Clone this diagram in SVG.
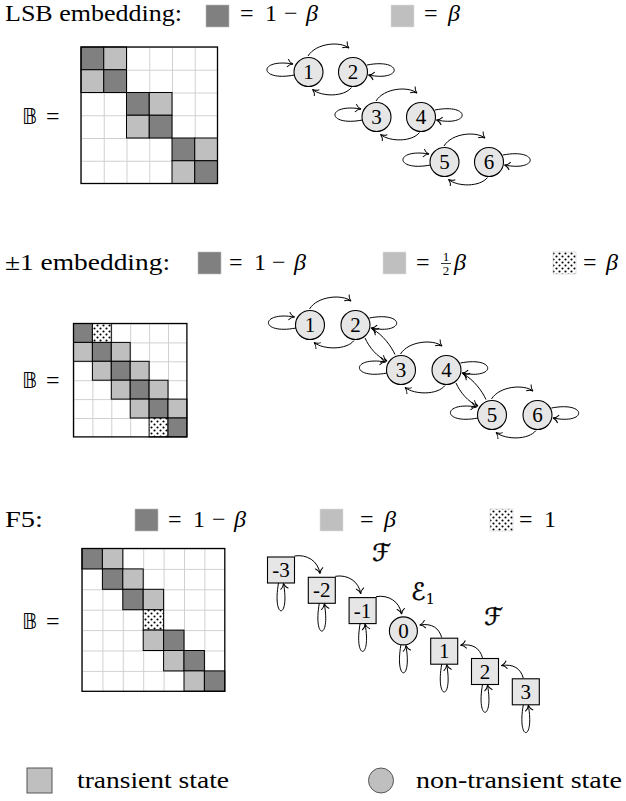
<svg xmlns="http://www.w3.org/2000/svg" width="626" height="801" viewBox="0 0 626 801">
  <style>
    .txt { font-family: "Liberation Serif", "Times New Roman", serif; font-size: 24px; fill: #000; }
    .it { font-style: italic; }
    .bb { font-family: "DejaVu Sans", "DejaVu Serif", sans-serif; font-size: 21px; }
    .scr { font-family: "DejaVu Serif", "DejaVu Sans", serif; font-size: 24px; fill: #000; stroke: #000; stroke-width: 0.5; }
    .dark { fill: #808080; stroke: #000; stroke-width: 1; }
    .light { fill: #bfbfbf; stroke: #000; stroke-width: 1; }
    .dots { fill: url(#dots); stroke: #000; stroke-width: 1; }
    .keyd { fill: #808080; stroke: #bbb; stroke-width: 0.6; }
    .keyl { fill: #bfbfbf; stroke: #ddd; stroke-width: 0.6; }
    .keyp { fill: url(#dots); stroke: #ccc; stroke-width: 0.6; }
    .frame { fill: none; stroke: #000; stroke-width: 1.3; }
    .node circle, .node rect { fill: #e6e6e6; stroke: #000; stroke-width: 1.1; }
    .node text { font-family: "Liberation Serif", "Times New Roman", serif; font-size: 21px; text-anchor: middle; }
    .edge { fill: none; stroke: #000; stroke-width: 1; marker-end: url(#tip); }
  </style>
  <defs>
    <marker id="tip" markerUnits="userSpaceOnUse" markerWidth="12" markerHeight="12" viewBox="-7 -6 9 12" refX="0" refY="0" orient="auto">
      <path d="M-5.5,-4 C-4,-1.6 -1.6,-0.4 0,0 C-1.6,0.4 -4,1.6 -5.5,4" fill="none" stroke="#000" stroke-width="1"/>
    </marker>
    <pattern id="dots" patternUnits="userSpaceOnUse" width="6" height="6">
      <rect width="6" height="6" fill="#fff"/>
      <circle cx="1.5" cy="1.5" r="1.05" fill="#000"/>
      <circle cx="4.5" cy="4.5" r="1.05" fill="#000"/>
    </pattern>
    <pattern id="grid1" patternUnits="userSpaceOnUse" x="81" y="47" width="22.75" height="22.75">
      <path d="M0,0.5 H22.75 M0.5,0 V22.75" stroke="#d0d0d0" stroke-width="1" fill="none"/>
    </pattern>
    <pattern id="grid2" patternUnits="userSpaceOnUse" x="73.5" y="323.5" width="18.9" height="18.9">
      <path d="M0,0.5 H18.9 M0.5,0 V18.9" stroke="#d0d0d0" stroke-width="1" fill="none"/>
    </pattern>
    <pattern id="grid3" patternUnits="userSpaceOnUse" x="82" y="548.5" width="20.4" height="20.4">
      <path d="M0,0.5 H20.4 M0.5,0 V20.4" stroke="#d0d0d0" stroke-width="1" fill="none"/>
    </pattern>
  </defs>

  <rect width="626" height="801" fill="#fff"/>

  <!-- ===== LSB embedding ===== -->
  <g id="key-lsb">
    <text class="txt" x="5" y="21" textLength="177" lengthAdjust="spacingAndGlyphs">LSB embedding:</text>
    <rect class="keyd" x="206" y="5" width="23" height="22"/>
    <text class="txt" y="21"><tspan x="240">=</tspan><tspan x="265">1</tspan><tspan x="284">−</tspan><tspan x="306" class="it">β</tspan></text>
    <rect class="keyl" x="391" y="5" width="23" height="22"/>
    <text class="txt" y="21"><tspan x="424">=</tspan><tspan x="448" class="it">β</tspan></text>
  </g>

  <g id="matrix-lsb">
    <text class="bb" x="22" y="124">𝔹</text>
    <text class="txt" x="46" y="124">=</text>
    <rect x="81" y="47" width="136.5" height="136.5" fill="#fff"/>
    <rect x="81" y="47" width="136.5" height="136.5" fill="url(#grid1)"/>
    <rect class="dark" x="81" y="47" width="22.75" height="22.75"/>
    <rect class="light" x="103.75" y="47" width="22.75" height="22.75"/>
    <rect class="light" x="81" y="69.75" width="22.75" height="22.75"/>
    <rect class="dark" x="103.75" y="69.75" width="22.75" height="22.75"/>
    <rect class="dark" x="126.5" y="92.5" width="22.75" height="22.75"/>
    <rect class="light" x="149.25" y="92.5" width="22.75" height="22.75"/>
    <rect class="light" x="126.5" y="115.25" width="22.75" height="22.75"/>
    <rect class="dark" x="149.25" y="115.25" width="22.75" height="22.75"/>
    <rect class="dark" x="172" y="138" width="22.75" height="22.75"/>
    <rect class="light" x="194.75" y="138" width="22.75" height="22.75"/>
    <rect class="light" x="172" y="160.75" width="22.75" height="22.75"/>
    <rect class="dark" x="194.75" y="160.75" width="22.75" height="22.75"/>
    <rect class="frame" x="81" y="47" width="136.5" height="136.5"/>
  </g>

  <g id="lsb-n1" class="node"><circle cx="308.5" cy="72" r="14.5"/><text x="308.5" y="79">1</text></g>
  <g id="lsb-n2" class="node"><circle cx="353" cy="72" r="14.5"/><text x="353" y="79">2</text></g>
  <g id="lsb-n3" class="node"><circle cx="376.5" cy="117" r="14.5"/><text x="376.5" y="124">3</text></g>
  <g id="lsb-n4" class="node"><circle cx="421" cy="117" r="14.5"/><text x="421" y="124">4</text></g>
  <g id="lsb-n5" class="node"><circle cx="444.5" cy="162" r="14.5"/><text x="444.5" y="169">5</text></g>
  <g id="lsb-n6" class="node"><circle cx="489" cy="162" r="14.5"/><text x="489" y="169">6</text></g>

  <g id="lsb-edges">
    <!-- pair 1,2 -->
    <path class="edge" d="M308,56 C316,43 340,41 349,48"/>
    <path class="edge" d="M351.5,87.5 C344,97 322,97 312.5,89.5"/>
    <path class="edge" d="M294.5,75 C258,82 258,58 293,64"/>
    <path class="edge" d="M367,65 C403,58 403,82 368.5,75"/>
    <!-- pair 3,4 -->
    <path class="edge" d="M376,101 C384,88 408,86 417,93"/>
    <path class="edge" d="M419.5,132.5 C412,142 390,142 380.5,134.5"/>
    <path class="edge" d="M362.5,120 C326,127 326,103 361,109"/>
    <path class="edge" d="M435,110 C471,103 471,127 436.5,120"/>
    <!-- pair 5,6 -->
    <path class="edge" d="M444,146 C452,133 476,131 485,138"/>
    <path class="edge" d="M487.5,177.5 C480,187 458,187 448.5,179.5"/>
    <path class="edge" d="M430.5,165 C394,172 394,148 429,154"/>
    <path class="edge" d="M503,155 C539,148 539,172 504.5,165"/>
  </g>

  <!-- ===== ±1 embedding ===== -->
  <g id="key-pm1">
    <text class="txt" x="5" y="270" textLength="165" lengthAdjust="spacingAndGlyphs">±1 embedding:</text>
    <rect class="keyd" x="198" y="252" width="23" height="22"/>
    <text class="txt" y="270"><tspan x="229">=</tspan><tspan x="254">1</tspan><tspan x="272">−</tspan><tspan x="294" class="it">β</tspan></text>
    <rect class="keyl" x="383" y="252" width="23" height="22"/>
    <text class="txt" x="416" y="270">=</text>
    <text x="446" y="261" style="font-family:'Liberation Serif',serif;font-size:13px" text-anchor="middle">1</text>
    <line x1="441" y1="263.5" x2="451" y2="263.5" stroke="#000" stroke-width="0.8"/>
    <text x="446" y="275" style="font-family:'Liberation Serif',serif;font-size:13px" text-anchor="middle">2</text>
    <text class="txt it" x="454" y="270">β</text>
    <rect class="keyp" x="553" y="252" width="23" height="22"/>
    <text class="txt" y="270"><tspan x="583">=</tspan><tspan x="606" class="it">β</tspan></text>
  </g>

  <g id="matrix-pm1">
    <text class="bb" x="22" y="388">𝔹</text>
    <text class="txt" x="46" y="388">=</text>
    <rect x="73.5" y="323.5" width="113.4" height="113.4" fill="#fff"/>
    <rect x="73.5" y="323.5" width="113.4" height="113.4" fill="url(#grid2)"/>
    <rect class="dark" x="73.5" y="323.5" width="18.9" height="18.9"/>
    <rect class="dots" x="92.4" y="323.5" width="18.9" height="18.9"/>
    <rect class="light" x="73.5" y="342.4" width="18.9" height="18.9"/>
    <rect class="dark" x="92.4" y="342.4" width="18.9" height="18.9"/>
    <rect class="light" x="111.3" y="342.4" width="18.9" height="18.9"/>
    <rect class="light" x="92.4" y="361.3" width="18.9" height="18.9"/>
    <rect class="dark" x="111.3" y="361.3" width="18.9" height="18.9"/>
    <rect class="light" x="130.2" y="361.3" width="18.9" height="18.9"/>
    <rect class="light" x="111.3" y="380.2" width="18.9" height="18.9"/>
    <rect class="dark" x="130.2" y="380.2" width="18.9" height="18.9"/>
    <rect class="light" x="149.1" y="380.2" width="18.9" height="18.9"/>
    <rect class="light" x="130.2" y="399.1" width="18.9" height="18.9"/>
    <rect class="dark" x="149.1" y="399.1" width="18.9" height="18.9"/>
    <rect class="light" x="168" y="399.1" width="18.9" height="18.9"/>
    <rect class="dots" x="149.1" y="418" width="18.9" height="18.9"/>
    <rect class="dark" x="168" y="418" width="18.9" height="18.9"/>
    <rect class="frame" x="73.5" y="323.5" width="113.4" height="113.4"/>
  </g>

  <g id="pm1-n1" class="node"><circle cx="310" cy="325" r="14.5"/><text x="310" y="332">1</text></g>
  <g id="pm1-n2" class="node"><circle cx="355.5" cy="325" r="14.5"/><text x="355.5" y="332">2</text></g>
  <g id="pm1-n3" class="node"><circle cx="401" cy="370" r="14.5"/><text x="401" y="377">3</text></g>
  <g id="pm1-n4" class="node"><circle cx="446.5" cy="370" r="14.5"/><text x="446.5" y="377">4</text></g>
  <g id="pm1-n5" class="node"><circle cx="492" cy="415" r="14.5"/><text x="492" y="422">5</text></g>
  <g id="pm1-n6" class="node"><circle cx="537.5" cy="415" r="14.5"/><text x="537.5" y="422">6</text></g>

  <g id="pm1-edges">
    <!-- pair 1,2 -->
    <path class="edge" d="M309.5,309 C317.5,296 342,294 351,301"/>
    <path class="edge" d="M354,340.5 C346.5,350 324,350 314,342.5"/>
    <path class="edge" d="M296,328 C259.5,335 259.5,311 294.5,317"/>
    <path class="edge" d="M369.5,318 C405.5,311 405.5,335 371,328"/>
    <!-- 2 <-> 3 -->
    <path class="edge" d="M365,338 C369,347 377,357 387,361"/>
    <path class="edge" d="M395,354.5 C391,346 383,335 372.5,329"/>
    <!-- pair 3,4 -->
    <path class="edge" d="M400.5,354 C408.5,341 433,339 442,346"/>
    <path class="edge" d="M445,385.5 C437.5,395 415,395 405,387.5"/>
    <path class="edge" d="M387,373 C350.5,380 350.5,356 385.5,362"/>
    <path class="edge" d="M460.5,363 C496.5,356 496.5,380 462,373"/>
    <!-- 4 <-> 5 -->
    <path class="edge" d="M456,383 C460,392 468,402 478,406"/>
    <path class="edge" d="M486,399.5 C482,391 474,380 463.5,374"/>
    <!-- pair 5,6 -->
    <path class="edge" d="M491.5,399 C499.5,386 524,384 533,391"/>
    <path class="edge" d="M536,430.5 C528.5,440 506,440 496,432.5"/>
    <path class="edge" d="M478,418 C441.5,425 441.5,401 476.5,407"/>
    <path class="edge" d="M551.5,408 C587.5,401 587.5,425 553,418"/>
  </g>

  <!-- ===== F5 ===== -->
  <g id="key-f5">
    <text class="txt" x="5" y="527" textLength="38" lengthAdjust="spacingAndGlyphs">F5:</text>
    <rect class="keyd" x="135" y="509" width="23" height="22"/>
    <text class="txt" y="527"><tspan x="168">=</tspan><tspan x="193">1</tspan><tspan x="212">−</tspan><tspan x="234" class="it">β</tspan></text>
    <rect class="keyl" x="320" y="509" width="23" height="22"/>
    <text class="txt" y="527"><tspan x="360">=</tspan><tspan x="384" class="it">β</tspan></text>
    <rect class="keyp" x="490" y="509" width="23" height="22"/>
    <text class="txt" y="527"><tspan x="519">=</tspan><tspan x="544">1</tspan></text>
  </g>

  <g id="matrix-f5">
    <text class="bb" x="22" y="629">𝔹</text>
    <text class="txt" x="46" y="629">=</text>
    <rect x="82" y="548.5" width="142.8" height="142.8" fill="#fff"/>
    <rect x="82" y="548.5" width="142.8" height="142.8" fill="url(#grid3)"/>
    <rect class="dark" x="82" y="548.5" width="20.4" height="20.4"/>
    <rect class="light" x="102.4" y="548.5" width="20.4" height="20.4"/>
    <rect class="dark" x="102.4" y="568.9" width="20.4" height="20.4"/>
    <rect class="light" x="122.8" y="568.9" width="20.4" height="20.4"/>
    <rect class="dark" x="122.8" y="589.3" width="20.4" height="20.4"/>
    <rect class="light" x="143.2" y="589.3" width="20.4" height="20.4"/>
    <rect class="dots" x="143.2" y="609.7" width="20.4" height="20.4"/>
    <rect class="light" x="143.2" y="630.1" width="20.4" height="20.4"/>
    <rect class="dark" x="163.6" y="630.1" width="20.4" height="20.4"/>
    <rect class="light" x="163.6" y="650.5" width="20.4" height="20.4"/>
    <rect class="dark" x="184" y="650.5" width="20.4" height="20.4"/>
    <rect class="light" x="184" y="670.9" width="20.4" height="20.4"/>
    <rect class="dark" x="204.4" y="670.9" width="20.4" height="20.4"/>
    <rect class="frame" x="82" y="548.5" width="142.8" height="142.8"/>
  </g>

  <g id="f5-m3" class="node"><rect x="267.5" y="557" width="27" height="26"/><text x="281" y="577">-3</text></g>
  <g id="f5-m2" class="node"><rect x="308.3" y="577.3" width="27" height="26"/><text x="321.8" y="597.3">-2</text></g>
  <g id="f5-m1" class="node"><rect x="349.1" y="597.6" width="27" height="26"/><text x="362.6" y="617.6">-1</text></g>
  <g id="f5-0" class="node"><circle cx="403.4" cy="630.9" r="14"/><text x="403.4" y="638">0</text></g>
  <g id="f5-p1" class="node"><rect x="430.7" y="638.2" width="27" height="26"/><text x="444.2" y="658.2">1</text></g>
  <g id="f5-p2" class="node"><rect x="471.5" y="658.5" width="27" height="26"/><text x="485" y="678.5">2</text></g>
  <g id="f5-p3" class="node"><rect x="512.3" y="678.8" width="27" height="26"/><text x="525.8" y="698.8">3</text></g>

  <g id="f5-labels" class="scr">
    <text x="372" y="561">ℱ</text>
    <text x="411" y="600">ℰ<tspan font-size="15" stroke-width="0" dy="4">1</tspan></text>
    <text x="484" y="625">ℱ</text>
  </g>

  <g id="f5-edges">
    <!-- towards the centre from below zero -->
    <path class="edge" d="M294.5,556 C307,554 318,561 320,573.5"/>
    <path class="edge" d="M335.3,576.3 C347.8,574.3 358.8,581.3 360.8,593.8"/>
    <path class="edge" d="M376.1,596.6 C388.6,594.6 399.6,601.6 401.6,614.1"/>
    <!-- towards the centre from above zero -->
    <path class="edge" d="M441.7,637.5 C439,628 432,623 419.8,625"/>
    <path class="edge" d="M482.5,657.8 C479.8,648.3 472.8,643.3 460.6,645.3"/>
    <path class="edge" d="M523.3,678.1 C520.6,668.6 513.6,663.6 501.4,665.6"/>
    <!-- self loops -->
    <path class="edge" d="M278.5,583 C272,620 290,620 283.5,583.5"/>
    <path class="edge" d="M319.3,603.3 C312.8,640.3 330.8,640.3 324.3,603.8"/>
    <path class="edge" d="M360.1,623.6 C353.6,660.6 371.6,660.6 365.1,624.1"/>
    <path class="edge" d="M400.9,645 C394.4,682 412.4,682 405.9,645.5"/>
    <path class="edge" d="M441.7,664.2 C435.2,701.2 453.2,701.2 446.7,664.7"/>
    <path class="edge" d="M482.5,684.5 C476,721.5 494,721.5 487.5,685"/>
    <path class="edge" d="M523.3,704.8 C516.8,741.8 534.8,741.8 528.3,705.3"/>
  </g>

  <!-- ===== state legend ===== -->
  <g id="legend-transient">
    <rect x="27" y="768" width="25" height="25" fill="#bfbfbf" stroke="#555" stroke-width="1"/>
    <text class="txt" x="77" y="788" textLength="152" lengthAdjust="spacingAndGlyphs">transient state</text>
  </g>
  <g id="legend-nontransient">
    <circle cx="381" cy="780.5" r="12.5" fill="#bfbfbf" stroke="#555" stroke-width="1"/>
    <text class="txt" x="416" y="788" textLength="206" lengthAdjust="spacingAndGlyphs">non-transient state</text>
  </g>
</svg>
